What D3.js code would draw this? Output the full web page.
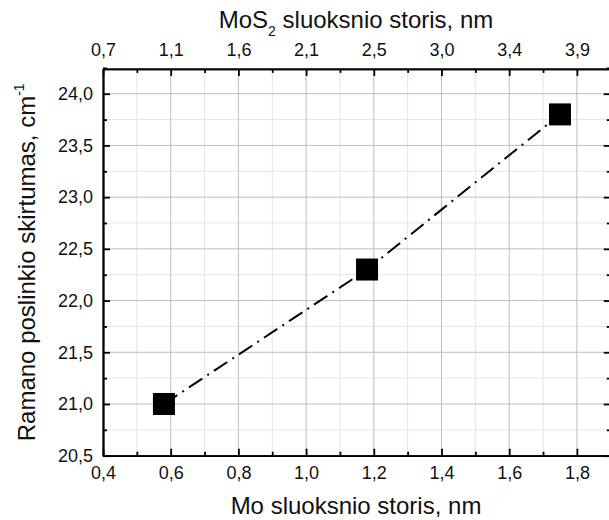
<!DOCTYPE html>
<html>
<head>
<meta charset="utf-8">
<script src="https://cdn.jsdelivr.net/npm/d3@7"></script>
<style>
  body { margin: 0; background: #fff; }
  svg { display: block; font-family: "Liberation Sans", Arial, sans-serif; }
</style>
</head>
<body>
<svg id="chart" width="609" height="520"></svg>
<script>
// duomenys
const moThickness = [0.58, 1.18, 1.75]
const ramanDiff = [21.0, 22.3, 23.8]

const xMajor = [0.4, 0.6, 0.8, 1.0, 1.2, 1.4, 1.6, 1.8]
const xMinor = [0.5, 0.7, 0.9, 1.1, 1.3, 1.5, 1.7, 1.9]
const yMajor = [20.5, 21.0, 21.5, 22.0, 22.5, 23.0, 23.5, 24.0]
const yMinor = [20.75, 21.25, 21.75, 22.25, 22.75, 23.25, 23.75, 24.25]
const topLabels = ["0,7", "1,1", "1,6", "2,1", "2,5", "3,0", "3,4", "3,9"]

const svg = d3.select('#chart')

const x = d3.scaleLinear().domain([0.4, 1.9]).range([103, 610.75])
const y = d3.scaleLinear().domain([20.5, 24.24]).range([455.7, 68.9])

const comma = d => d3.format(".1f")(d).replace(".", ",")

const pLeft = x.range()[0], pRight = x.range()[1]
const pBottom = y.range()[0], pTop = y.range()[1]

// tinklelis
const grid = svg.append("g")
grid.selectAll(".vminor").data(xMinor.filter(d => x(d) < pRight)).enter().append("line")
    .attr("x1", d => x(d)).attr("x2", d => x(d)).attr("y1", pTop).attr("y2", pBottom)
    .attr("stroke", "#e4e4e4").attr("stroke-width", 1)
grid.selectAll(".hminor").data(yMinor.filter(d => y(d) > pTop)).enter().append("line")
    .attr("x1", pLeft).attr("x2", pRight).attr("y1", d => y(d)).attr("y2", d => y(d))
    .attr("stroke", "#e4e4e4").attr("stroke-width", 1)
grid.selectAll(".vmajor").data(xMajor.slice(1)).enter().append("line")
    .attr("x1", d => x(d)).attr("x2", d => x(d)).attr("y1", pTop).attr("y2", pBottom)
    .attr("stroke", "#bdbdbd").attr("stroke-width", 1)
grid.selectAll(".hmajor").data(yMajor.slice(1)).enter().append("line")
    .attr("x1", pLeft).attr("x2", pRight).attr("y1", d => y(d)).attr("y2", d => y(d))
    .attr("stroke", "#bdbdbd").attr("stroke-width", 1)

// linija
const line = d3.line().x(d => x(d[0])).y(d => y(d[1]))
svg.append("path")
    .datum(moThickness.map((d, i) => [d, ramanDiff[i]]))
    .attr("d", line)
    .attr("fill", "none")
    .attr("stroke", "#000")
    .attr("stroke-width", 2)
    .attr("stroke-dasharray", "16,6,2,6")

// kvadratai
const s = 22
svg.append("g").selectAll("rect").data(moThickness).enter().append("rect")
    .attr("x", d => x(d) - s / 2)
    .attr("y", (d, i) => y(ramanDiff[i]) - s / 2)
    .attr("width", s).attr("height", s)
    .attr("fill", "#000")

// ašys
function styleAxis(g) {
    g.select(".domain").attr("stroke", "#000").attr("stroke-width", 1.8)
    g.selectAll(".tick line").attr("stroke", "#000").attr("stroke-width", 1.8)
    g.selectAll("text").attr("fill", "#111").style("font-size", "18px")
        .style("font-family", '"Liberation Sans", Arial, sans-serif')
}

svg.append("g").attr("transform", `translate(0,${pBottom})`)
    .call(d3.axisBottom(x).tickValues(xMajor).tickFormat(comma).tickSizeInner(-7).tickSizeOuter(0).tickPadding(11))
    .call(styleAxis)
svg.append("g").attr("transform", `translate(0,${pBottom})`)
    .call(d3.axisBottom(x).tickValues(xMinor).tickFormat("").tickSizeInner(-4).tickSizeOuter(0))
    .call(styleAxis)

svg.append("g").attr("transform", `translate(0,${pTop})`)
    .call(d3.axisTop(x).tickValues(xMajor).tickFormat((d, i) => topLabels[i]).tickSizeInner(-7).tickSizeOuter(0).tickPadding(13))
    .call(styleAxis)
svg.append("g").attr("transform", `translate(0,${pTop})`)
    .call(d3.axisTop(x).tickValues(xMinor).tickFormat("").tickSizeInner(-4).tickSizeOuter(0))
    .call(styleAxis)

svg.append("g").attr("transform", `translate(${pLeft},0)`)
    .call(d3.axisLeft(y).tickValues(yMajor).tickFormat(comma).tickSizeInner(-7).tickSizeOuter(0).tickPadding(10))
    .call(styleAxis)
svg.append("g").attr("transform", `translate(${pLeft},0)`)
    .call(d3.axisLeft(y).tickValues(yMinor).tickFormat("").tickSizeInner(-4).tickSizeOuter(0))
    .call(styleAxis)

svg.append("g").attr("transform", `translate(${pRight},0)`)
    .call(d3.axisRight(y).tickValues(yMajor).tickFormat("").tickSizeInner(-7).tickSizeOuter(0))
    .call(styleAxis)
svg.append("g").attr("transform", `translate(${pRight},0)`)
    .call(d3.axisRight(y).tickValues(yMinor).tickFormat("").tickSizeInner(-4).tickSizeOuter(0))
    .call(styleAxis)

// pavadinimai
svg.append("text")
    .attr("x", (pLeft + 609) / 2).attr("y", 514)
    .attr("text-anchor", "middle")
    .attr("fill", "#111")
    .style("font-size", "24px")
    .text("Mo sluoksnio storis, nm")

const topTitle = svg.append("text")
    .attr("x", (pLeft + 609) / 2).attr("y", 28)
    .attr("text-anchor", "middle")
    .attr("fill", "#111")
    .style("font-size", "24px")
topTitle.append("tspan").text("MoS")
topTitle.append("tspan").attr("dy", 8).style("font-size", "14px").text("2")
topTitle.append("tspan").attr("dy", -8).text(" sluoksnio storis, nm")

const yTitle = svg.append("text")
    .attr("transform", `translate(35,${(pTop + pBottom) / 2}) rotate(-90)`)
    .attr("text-anchor", "middle")
    .attr("fill", "#111")
    .style("font-size", "24px")
yTitle.append("tspan").text("Ramano poslinkio skirtumas, cm")
yTitle.append("tspan").attr("dy", -11).style("font-size", "14px").text("-1")
</script>
</body>
</html>
